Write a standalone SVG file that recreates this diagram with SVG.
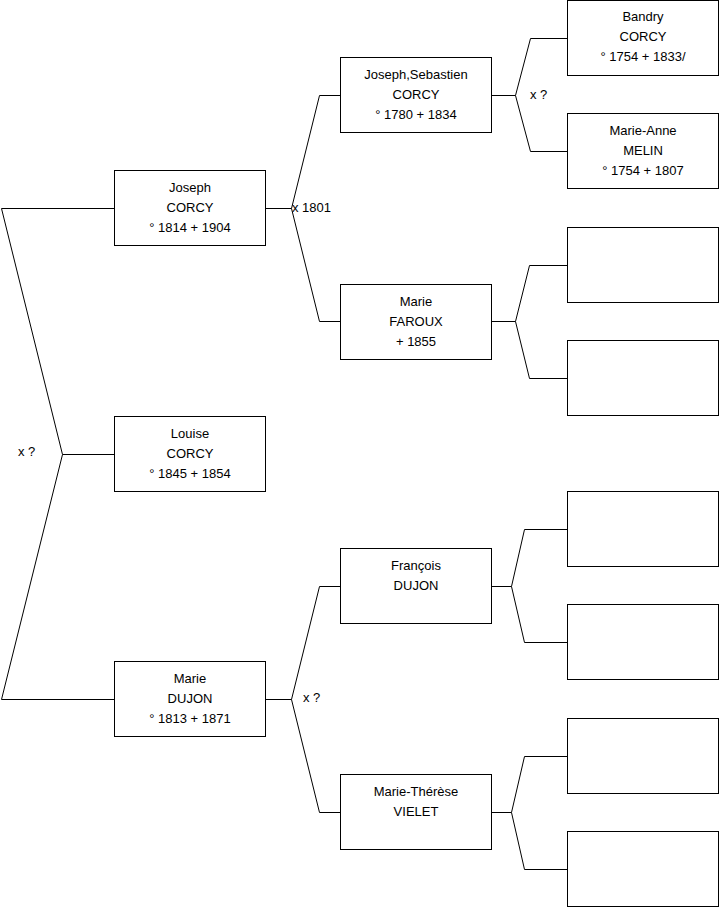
<svg xmlns="http://www.w3.org/2000/svg" width="719" height="908" viewBox="0 0 719 908">
<style>
rect.box{fill:#fff;stroke:#000;stroke-width:1}
.conn path{fill:none;stroke:#000;stroke-width:1}
text{font-family:"Liberation Sans",Arial,sans-serif;font-size:13px;fill:#000}
.c{text-anchor:middle}
</style>
<rect width="719" height="908" fill="#fff"/>
<g class="conn" id="connectors">
<path d="M114.5,208.5 H1.5 L62.5,454.5 L1.5,699.5 H114.5 M62.5,454.5 H114.5"/>
<path d="M265.5,208.5 H291.5 M340.5,95.5 H319.5 L291.5,208.5 L319.5,321.5 H340.5"/>
<path d="M491.5,95.5 H515.5 M567.5,38.5 H530.5 L515.5,95.5 L530.5,151.5 H567.5"/>
<path d="M491.5,321.5 H515.5 M567.5,265.5 H529.5 L515.5,321.5 L529.5,378.5 H567.5"/>
<path d="M265.5,699.5 H291.5 M340.5,586.5 H319.5 L291.5,699.5 L319.5,812.5 H340.5"/>
<path d="M491.5,586.5 H511.5 M567.5,529.5 H524.5 L511.5,586.5 L524.5,642.5 H567.5"/>
<path d="M491.5,812.5 H511.5 M567.5,756.5 H524.5 L511.5,812.5 L524.5,869.5 H567.5"/>
<text x="18" y="456">x ?</text>
<text x="292" y="211.5">x 1801</text>
<text x="530" y="99">x ?</text>
<text x="303" y="702">x ?</text>
</g>
<g id="joseph"><rect class="box" x="114.5" y="170.5" width="151" height="75"/>
<text class="c" x="190" y="191.5">Joseph</text><text class="c" x="190" y="211.5">CORCY</text><text class="c" x="190" y="231.5">° 1814 + 1904</text></g>
<g id="louise"><rect class="box" x="114.5" y="416.5" width="151" height="75"/>
<text class="c" x="190" y="437.5">Louise</text><text class="c" x="190" y="457.5">CORCY</text><text class="c" x="190" y="477.5">° 1845 + 1854</text></g>
<g id="marie-dujon"><rect class="box" x="114.5" y="661.5" width="151" height="75"/>
<text class="c" x="190" y="682.5">Marie</text><text class="c" x="190" y="702.5">DUJON</text><text class="c" x="190" y="722.5">° 1813 + 1871</text></g>
<g id="joseph-sebastien"><rect class="box" x="340.5" y="57.5" width="151" height="75"/>
<text class="c" x="416" y="78.5">Joseph,Sebastien</text><text class="c" x="416" y="98.5">CORCY</text><text class="c" x="416" y="118.5">° 1780 + 1834</text></g>
<g id="marie-faroux"><rect class="box" x="340.5" y="284.5" width="151" height="75"/>
<text class="c" x="416" y="305.5">Marie</text><text class="c" x="416" y="325.5">FAROUX</text><text class="c" x="416" y="345.5">+ 1855</text></g>
<g id="francois"><rect class="box" x="340.5" y="548.5" width="151" height="75"/>
<text class="c" x="416" y="569.5">François</text><text class="c" x="416" y="589.5">DUJON</text></g>
<g id="marie-therese"><rect class="box" x="340.5" y="774.5" width="151" height="75"/>
<text class="c" x="416" y="795.5">Marie-Thérèse</text><text class="c" x="416" y="815.5">VIELET</text></g>
<g id="bandry"><rect class="box" x="567.5" y="0.5" width="151" height="75"/>
<text class="c" x="643" y="21">Bandry</text><text class="c" x="643" y="41">CORCY</text><text class="c" x="643" y="61">° 1754 + 1833/</text></g>
<g id="marie-anne"><rect class="box" x="567.5" y="113.5" width="151" height="75"/>
<text class="c" x="643" y="134.5">Marie-Anne</text><text class="c" x="643" y="154.5">MELIN</text><text class="c" x="643" y="174.5">° 1754 + 1807</text></g>
<g id="empty1"><rect class="box" x="567.5" y="227.5" width="151" height="75"/></g>
<g id="empty2"><rect class="box" x="567.5" y="340.5" width="151" height="75"/></g>
<g id="empty3"><rect class="box" x="567.5" y="491.5" width="151" height="75"/></g>
<g id="empty4"><rect class="box" x="567.5" y="604.5" width="151" height="75"/></g>
<g id="empty5"><rect class="box" x="567.5" y="718.5" width="151" height="75"/></g>
<g id="empty6"><rect class="box" x="567.5" y="831.5" width="151" height="75"/></g>
</svg>
